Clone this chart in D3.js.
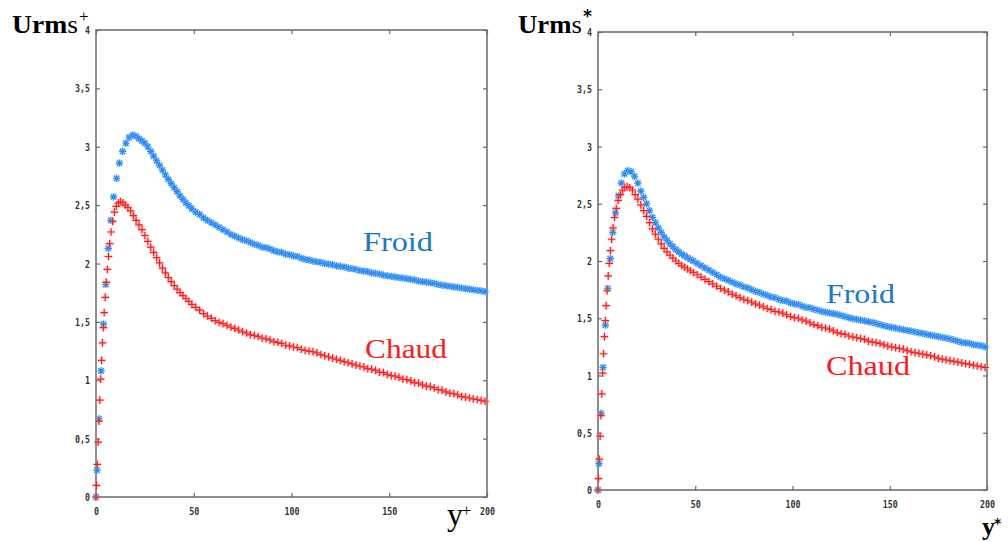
<!DOCTYPE html>
<html>
<head>
<meta charset="utf-8">
<script src="https://cdn.jsdelivr.net/npm/d3@7"></script>
<style>
  body { margin: 0; background: #fff; }
  svg { display: block; }
  .tick line { stroke: #666; stroke-width: 1.2; }
  .tick text { font-family: "DejaVu Sans Mono", monospace; font-weight: bold; font-size: 11px; fill: #333; }
</style>
</head>
<body>
<svg id="chart" width="1008" height="542"></svg>
<script>
"use strict";

// wall distance grids: the cold and hot runs are finer near the wall in different ways
var yPlusColdWall = [0, 0.5, 1.5, 2.6, 3.8, 5.0, 6.3, 7.6, 9.0, 10.5, 12.0, 13.6, 15.3, 17.0, 18.8, 20.5, 22.0];
var yPlusHotWall = [0, 0.25, 0.65, 1.1, 1.5, 1.95, 2.4, 2.85, 3.3, 3.75, 4.2, 4.7, 5.25, 5.8, 6.4, 7.0, 7.7, 8.5, 9.4, 10.4,
  11.5, 12.6, 13.8, 15.0, 16.3, 17.7, 19.1, 20.5, 22.0];
var yPlusOuter = [23.5, 25, 26.5, 28, 29.5, 31, 32.5, 34, 35.5, 37, 38.5, 40, 41.5, 43, 44.5, 46, 47.5, 49,
  51, 53, 55, 57, 59, 61, 63, 65, 67, 69, 71, 73, 75, 77, 79, 81, 83, 85, 87, 89, 91, 93, 95, 97, 99,
  101, 103, 105, 107, 109, 111, 113, 115, 117, 119, 121, 123, 125, 127, 129, 131, 133, 135, 137, 139,
  141, 143, 145, 147, 149, 151, 153, 155, 157, 159, 161, 163, 165, 167, 169, 171, 173, 175, 177, 179,
  181, 183, 185, 187, 189, 191, 193, 195, 197, 199];
var yPlusCold = yPlusColdWall.concat(yPlusOuter);
var yPlusHot = yPlusHotWall.concat(yPlusOuter);

// left panel (Urms+ vs y+)
var urmsColdLeft = [0, 0.23, 0.67, 1.08, 1.48, 1.82, 2.13, 2.37, 2.57, 2.73, 2.86, 2.96, 3.03, 3.08, 3.10, 3.09, 3.07,
  3.05, 3.03, 3.00, 2.96, 2.92, 2.88, 2.84, 2.80, 2.76, 2.72, 2.685, 2.65, 2.615, 2.58, 2.55, 2.52, 2.495, 2.47,
  2.44, 2.42, 2.39, 2.37, 2.35, 2.33, 2.31, 2.29, 2.27, 2.25, 2.235, 2.22, 2.205, 2.195, 2.18, 2.165, 2.155, 2.14, 2.135, 2.125,
  2.11, 2.10, 2.095, 2.08, 2.075, 2.065, 2.06, 2.045, 2.035, 2.03, 2.02, 2.015, 2.01, 2.0, 1.995, 1.99, 1.98, 1.975, 1.97, 1.96,
  1.955, 1.95, 1.94, 1.935, 1.93, 1.92, 1.915, 1.91, 1.90, 1.895, 1.89, 1.885, 1.88, 1.875, 1.87, 1.865, 1.86, 1.85, 1.845, 1.84,
  1.835, 1.83, 1.82, 1.815, 1.81, 1.805, 1.80, 1.795, 1.79, 1.785, 1.78, 1.775, 1.77, 1.765, 1.76];
var urmsHotLeft = [0, 0.10, 0.28, 0.47, 0.65, 0.83, 1.01, 1.17, 1.32, 1.45, 1.58, 1.71, 1.84, 1.95, 2.06, 2.17, 2.27, 2.36, 2.44, 2.49,
  2.52, 2.53, 2.52, 2.50, 2.48, 2.45, 2.41, 2.37, 2.33,
  2.29, 2.24, 2.19, 2.14, 2.095, 2.05, 2.005, 1.96, 1.92, 1.88, 1.845, 1.81, 1.78, 1.75, 1.725, 1.70, 1.675, 1.65,
  1.625, 1.60, 1.57, 1.55, 1.53, 1.51, 1.495, 1.485, 1.47, 1.455, 1.445, 1.43, 1.415, 1.405, 1.39, 1.385, 1.375, 1.36, 1.355, 1.345,
  1.33, 1.325, 1.315, 1.30, 1.295, 1.285, 1.28, 1.265, 1.255, 1.25, 1.245, 1.235, 1.22, 1.21, 1.20, 1.19, 1.18, 1.17, 1.16, 1.15,
  1.14, 1.13, 1.12, 1.115, 1.10, 1.095, 1.085, 1.07, 1.065, 1.05, 1.04, 1.035, 1.025, 1.01, 1.005, 0.995, 0.98, 0.975, 0.96, 0.95,
  0.945, 0.935, 0.92, 0.915, 0.90, 0.89, 0.885, 0.875, 0.86, 0.855, 0.848, 0.84, 0.835, 0.828, 0.82];

// right panel (Urms* vs y*)
var urmsColdRight = [0, 0.23, 0.67, 1.07, 1.44, 1.76, 2.02, 2.25, 2.42, 2.57, 2.68, 2.76, 2.79, 2.78, 2.74, 2.68, 2.61,
  2.555, 2.50, 2.44, 2.38, 2.335, 2.29, 2.25, 2.21, 2.18, 2.15, 2.125, 2.10, 2.08, 2.06, 2.045, 2.03, 2.015, 2.00,
  1.98, 1.96, 1.94, 1.92, 1.90, 1.88, 1.86, 1.845, 1.83, 1.815, 1.80, 1.79, 1.775, 1.765, 1.75, 1.735, 1.725, 1.71, 1.70, 1.687,
  1.68, 1.665, 1.655, 1.65, 1.635, 1.625, 1.62, 1.605, 1.595, 1.59, 1.58, 1.57, 1.56, 1.553, 1.547, 1.54, 1.533, 1.525, 1.515, 1.505,
  1.497, 1.49, 1.483, 1.477, 1.47, 1.463, 1.455, 1.445, 1.435, 1.427, 1.42, 1.413, 1.407, 1.40, 1.393, 1.387, 1.38, 1.373, 1.367, 1.36,
  1.353, 1.347, 1.34, 1.333, 1.327, 1.32, 1.31, 1.30, 1.29, 1.285, 1.28, 1.27, 1.265, 1.26, 1.25];
var urmsHotRight = [0, 0.10, 0.27, 0.47, 0.65, 0.84, 1.02, 1.19, 1.34, 1.48, 1.61, 1.74, 1.87, 1.98, 2.09, 2.19, 2.29, 2.38, 2.46, 2.53,
  2.58, 2.62, 2.64, 2.65, 2.64, 2.62, 2.58, 2.54, 2.49,
  2.44, 2.39, 2.335, 2.28, 2.235, 2.19, 2.15, 2.11, 2.08, 2.05, 2.025, 2.00, 1.98, 1.96, 1.945, 1.93, 1.915, 1.90,
  1.88, 1.86, 1.84, 1.82, 1.80, 1.78, 1.76, 1.745, 1.73, 1.71, 1.695, 1.68, 1.665, 1.655, 1.64, 1.625, 1.615, 1.60, 1.585, 1.575,
  1.56, 1.555, 1.545, 1.53, 1.515, 1.505, 1.50, 1.485, 1.475, 1.46, 1.445, 1.435, 1.42, 1.415, 1.405, 1.39, 1.375, 1.365, 1.36, 1.345,
  1.337, 1.33, 1.323, 1.315, 1.30, 1.293, 1.287, 1.28, 1.267, 1.257, 1.25, 1.243, 1.237, 1.23, 1.217, 1.207, 1.20, 1.193, 1.187, 1.18,
  1.173, 1.163, 1.15, 1.143, 1.137, 1.13, 1.123, 1.117, 1.11, 1.103, 1.097, 1.09, 1.083, 1.077, 1.07];

var xTicks = [0, 50, 100, 150, 200];
var yTicks = [0, 0.5, 1, 1.5, 2, 2.5, 3, 3.5, 4];
var seriesNames = ["Froid", "Chaud"];

var blue = "#2a8bf2",
  blueText = "#1b78c6",
  red = "#ff1a1a",
  serif = "'Liberation Serif', 'Times New Roman', Times, serif";

// french decimal comma for the y ticks
var frLocale = d3.formatLocale({decimal: ",", thousands: " ", grouping: [3], currency: ["", " €"]});
var yFormat = frLocale.format(".1~f");

// gnuplot style stroked markers
var plusSymbol = {
  draw: function (ctx, size) {
    var r = Math.sqrt(size) / 2;
    ctx.moveTo(-r, 0); ctx.lineTo(r, 0);
    ctx.moveTo(0, -r); ctx.lineTo(0, r);
  }
};
var starSymbol = {
  draw: function (ctx, size) {
    var r = Math.sqrt(size) / 2,
      k = r * 0.75;
    ctx.moveTo(-r, 0); ctx.lineTo(r, 0);
    ctx.moveTo(0, -r); ctx.lineTo(0, r);
    ctx.moveTo(-k, -k); ctx.lineTo(k, k);
    ctx.moveTo(-k, k); ctx.lineTo(k, -k);
  }
};

var svg = d3.select("#chart");

function shrinkTicks(sel) {
  sel.select(".domain").remove();
  sel.selectAll(".tick text")
    .attr("textLength", function () { return this.textContent.length * 5; })
    .attr("lengthAdjust", "spacingAndGlyphs");
}

function drawPanel(p) {
  var x = d3.scaleLinear().domain([0, 200]).range([p.left, p.right]),
    y = d3.scaleLinear().domain([0, 4]).range([p.bottom, p.top]);

  var g = svg.append("g");

  g.append("g")
    .attr("transform", "translate(0," + p.bottom + ")")
    .call(d3.axisBottom(x).tickValues(xTicks).tickSizeInner(-4).tickSizeOuter(0).tickPadding(p.xPad))
    .call(shrinkTicks);

  g.append("g")
    .attr("transform", "translate(0," + p.top + ")")
    .call(d3.axisTop(x).tickValues(xTicks).tickSizeInner(-4).tickSizeOuter(0).tickFormat(""))
    .call(shrinkTicks);

  g.append("g")
    .attr("transform", "translate(" + p.left + ",0)")
    .call(d3.axisLeft(y).tickValues(yTicks).tickSizeInner(-4).tickSizeOuter(0).tickPadding(6).tickFormat(yFormat))
    .call(shrinkTicks);

  g.append("g")
    .attr("transform", "translate(" + p.right + ",0)")
    .call(d3.axisRight(y).tickValues(yTicks).tickSizeInner(-4).tickSizeOuter(0).tickFormat(""))
    .call(shrinkTicks);

  g.selectAll(".tick text").attr("fill", "#333");

  // frame
  g.append("rect")
    .attr("x", p.left)
    .attr("y", p.top)
    .attr("width", p.right - p.left)
    .attr("height", p.bottom - p.top)
    .attr("fill", "none")
    .attr("stroke", "#6a6a6a")
    .attr("stroke-width", 1.5);

  var star = d3.symbol().type(starSymbol).size(52),
    plus = d3.symbol().type(plusSymbol).size(58);

  function markers(xs, values, shape, color, halo) {
    var m = g.append("g").selectAll("g")
      .data(values)
      .enter()
      .append("g")
      .attr("transform", function (d, i) {
        return "translate(" + x(xs[i]) + "," + y(d) + ")";
      });
    m.append("path")
      .attr("d", shape)
      .attr("fill", "none")
      .attr("stroke", halo)
      .attr("stroke-width", 3)
      .attr("stroke-opacity", 0.4);
    m.append("path")
      .attr("d", shape)
      .attr("fill", "none")
      .attr("stroke", color)
      .attr("stroke-width", 1.2);
  }

  markers(yPlusCold, p.cold, star, blue, "#9fcaff");
  markers(yPlusHot, p.hot, plus, red, "#ff9c9c");

  // curve names
  g.append("text")
    .attr("font-family", serif)
    .attr("x", p.froid[0])
    .attr("y", p.froid[1])
    .attr("font-size", 28)
    .attr("fill", blueText)
    .attr("textLength", p.froid[2])
    .attr("lengthAdjust", "spacingAndGlyphs")
    .text(seriesNames[0]);

  g.append("text")
    .attr("font-family", serif)
    .attr("x", p.chaud[0])
    .attr("y", p.chaud[1])
    .attr("font-size", 28)
    .attr("fill", red)
    .attr("textLength", p.chaud[2])
    .attr("lengthAdjust", "spacingAndGlyphs")
    .text(seriesNames[1]);

  // y axis title
  var t = g.append("text")
    .attr("font-family", serif)
    .attr("x", p.yTitle[0])
    .attr("y", p.yTitle[1])
    .attr("font-size", 25)
    .attr("fill", "#000")
    .attr("textLength", p.yTitle[2])
    .attr("lengthAdjust", "spacingAndGlyphs");
  t.append("tspan").attr("font-weight", "bold").text("Urm");
  t.append("tspan").text("s");

  g.append("text")
    .attr("font-family", p.starMark ? "DejaVu Sans" : serif)
    .attr("x", p.yTitle[0] + p.yTitle[2] + 1)
    .attr("y", 22)
    .attr("font-size", 17)
    .attr("font-weight", p.starMark ? "bold" : "normal")
    .text(p.starMark ? "*" : "+");

  // x axis title
  g.append("text")
    .attr("font-family", serif)
    .attr("x", p.xTitle[0])
    .attr("y", p.xTitle[1])
    .attr("font-size", p.xTitle[2])
    .attr("font-weight", p.starMark ? "bold" : "normal")
    .text("y");

  g.append("text")
    .attr("font-family", p.starMark ? "DejaVu Sans" : serif)
    .attr("x", p.xTitle[0] + p.xTitle[2] * 0.46)
    .attr("y", p.xTitle[1] - p.xTitle[2] * 0.28)
    .attr("font-size", p.xTitle[2] * 0.53)
    .attr("font-weight", p.starMark ? "bold" : "normal")
    .text(p.starMark ? "*" : "+");
}

drawPanel({
  left: 96, right: 487, top: 30, bottom: 497, xPad: 10,
  cold: urmsColdLeft, hot: urmsHotLeft,
  froid: [363, 251, 70], chaud: [365, 358, 82],
  yTitle: [12, 33, 66], xTitle: [447, 525, 32],
  starMark: false
});

drawPanel({
  left: 598, right: 987, top: 32, bottom: 490, xPad: 10,
  cold: urmsColdRight, hot: urmsHotRight,
  froid: [826, 303, 69], chaud: [826, 375, 84],
  yTitle: [518, 33, 64], xTitle: [982, 535, 26],
  starMark: true
});
</script>
</body>
</html>
